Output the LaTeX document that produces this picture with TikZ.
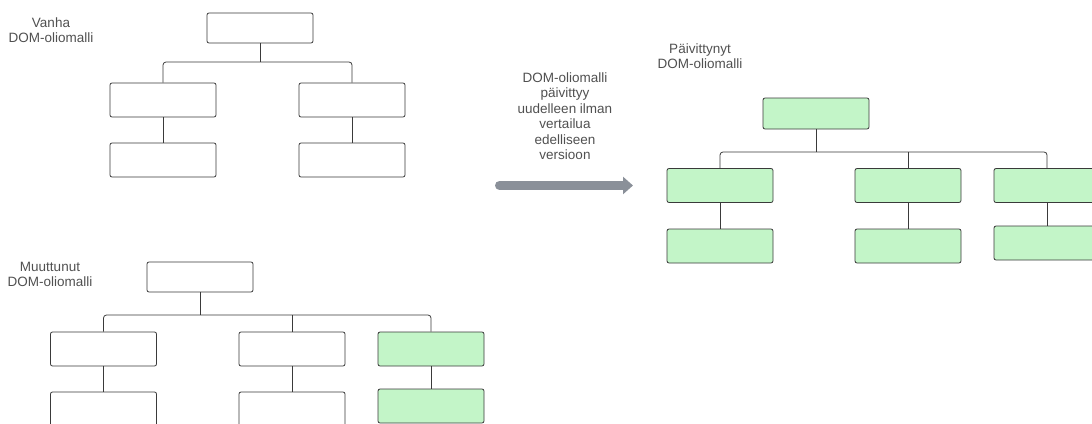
\documentclass[tikz,border=0pt]{standalone}
\usepackage{fontspec}
\setmainfont{Liberation Sans}
\usetikzlibrary{arrows.meta}
\definecolor{boxline}{HTML}{3A3A3A}
\definecolor{greenfill}{HTML}{C3F5C8}
\definecolor{labeltext}{HTML}{505050}
\definecolor{arrowgray}{HTML}{8A9099}
\tikzset{
  box/.style={draw=boxline, line width=0.8pt, rounded corners=2pt, minimum width=106pt, minimum height=34pt, inner sep=0pt},
  rootbox/.style={box, minimum height=30pt},
  newbox/.style={fill=greenfill},
  conn/.style={draw=boxline, line width=0.8pt, rounded corners=3pt},
  lbl/.style={text=labeltext, align=center, font=\fontsize{13.5}{15}\selectfont, inner sep=0pt},
  bigarrow/.style={draw=arrowgray, line width=9pt, line cap=round, -{Triangle[length=10pt,width=17pt]}}
}
\begin{document}
\begin{tikzpicture}[x=1pt,y=-1pt]
\useasboundingbox (0,0) rectangle (1092,423);
\clip (0,0) rectangle (1092,423);

% ---- Vanha DOM-oliomalli ----
\node[lbl] (la) at (51,30) {Vanha\\DOM-oliomalli};
\node[rootbox] (a0) at (260,28) {};
\node[box] (a1) at (163,100) {};
\node[box] (a2) at (352,100) {};
\node[box] (a3) at (163,160) {};
\node[box] (a4) at (352,160) {};
\coordinate (ab) at (260,62);
\draw[conn] (a0.south) -- (ab);
\draw[conn] (a1.north) |- (ab) -| (a2.north);
\draw[conn] (a1.south) -- (a3.north);
\draw[conn] (a2.south) -- (a4.north);

% ---- Muuttunut DOM-oliomalli ----
\node[lbl] (lb) at (50,274.5) {Muuttunut\\DOM-oliomalli};
\node[rootbox] (b0) at (200,277) {};
\node[box] (b1) at (103.5,349) {};
\node[box] (b2) at (292,349) {};
\node[box,newbox] (b3) at (431,349) {};
\node[box] (b4) at (103.5,409) {};
\node[box] (b5) at (292,409) {};
\node[box,newbox] (b6) at (431,406) {};
\coordinate (bb) at (200,315);
\draw[conn] (b0.south) -- (bb);
\draw[conn] (b1.north) |- (bb) -| (b3.north);
\draw[conn] (b2.north) -- (b2.north |- bb);
\draw[conn] (b1.south) -- (b4.north);
\draw[conn] (b2.south) -- (b5.north);
\draw[conn] (b3.south) -- (b6.north);

% ---- arrow ----
\node[lbl, font=\fontsize{13.5}{15.5}\selectfont] (lt) at (565,116) {DOM-oliomalli\\päivittyy\\uudelleen ilman\\vertailua\\edelliseen\\versioon};
\coordinate (as) at (499.5,185.5);
\coordinate (ae) at (633,185.5);
\draw[bigarrow] (as) -- (ae);

% ---- Päivittynyt DOM-oliomalli ----
\node[lbl] (lc) at (700,56) {Päivittynyt\\DOM-oliomalli};
\node[rootbox,newbox,minimum height=31pt] (c0) at (816,113.5) {};
\node[box,newbox] (c1) at (720,185.5) {};
\node[box,newbox] (c2) at (908,185.5) {};
\node[box,newbox] (c3) at (1047,185.5) {};
\node[box,newbox] (c4) at (720,246) {};
\node[box,newbox] (c5) at (908,246) {};
\node[box,newbox] (c6) at (1047,243) {};
\coordinate (cb) at (816,152);
\draw[conn] (c0.south) -- (cb);
\draw[conn] (c1.north) |- (cb) -| (c3.north);
\draw[conn] (c2.north) -- (c2.north |- cb);
\draw[conn] (c1.south) -- (c4.north);
\draw[conn] (c2.south) -- (c5.north);
\draw[conn] (c3.south) -- (c6.north);
\end{tikzpicture}
\end{document}
